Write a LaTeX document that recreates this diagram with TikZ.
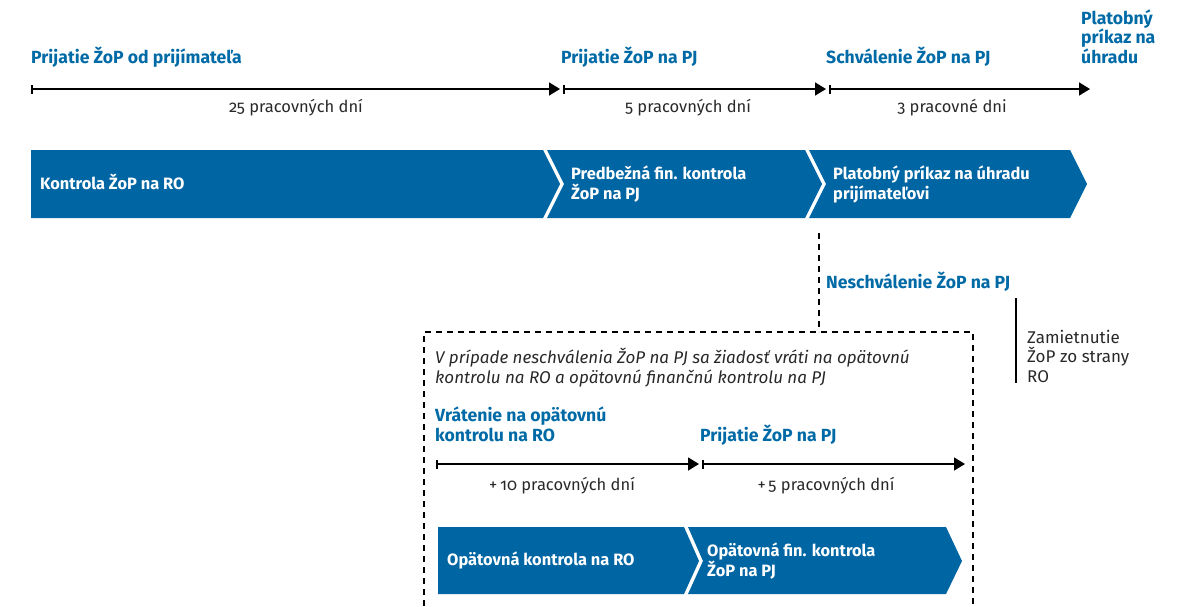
\documentclass[tikz,border=0pt]{standalone}
\usepackage{fontspec}
\setmainfont{Fira Sans}[Numbers=OldStyle]
\usetikzlibrary{arrows.meta}
\definecolor{ublue}{RGB}{0,106,166}
\definecolor{ufill}{RGB}{0,101,163}
\definecolor{utext}{RGB}{40,40,40}
\begin{document}
\begin{tikzpicture}[x=1pt,y=-1pt,
  lbl/.style={anchor=base west, inner sep=0pt, align=left,
    font=\fontsize{17.6}{19.5}\selectfont\bfseries, text=ublue},
  inlbl/.style={anchor=base west, inner sep=0pt, align=left,
    font=\fontsize{16.4}{19.5}\selectfont\bfseries, text=white},
  dur/.style={anchor=base, inner sep=0pt,
    font=\fontsize{16.5}{19.5}\selectfont, text=utext},
  note/.style={anchor=base west, inner sep=0pt, align=left,
    font=\fontsize{17}{19.5}\selectfont, text=utext},
  span/.style={line width=1.6pt,
    {Bar[width=9pt,line width=1.6pt]}-{Triangle[length=11pt,width=13pt]}},
  chev/.style={fill=ufill, draw=none},
  dashline/.style={line width=1.3pt, dash pattern=on 6pt off 5pt}
]
\useasboundingbox (0,0) rectangle (1180,606);

% ---- main time line ----
\coordinate (t0) at (31,89);
\coordinate (t1) at (560,89);
\coordinate (t1b) at (563,89);
\coordinate (t2) at (826,89);
\coordinate (t2b) at (829,89);
\coordinate (t3) at (1090,89);
\draw[span] (t0) -- (t1);
\draw[span] (t1b) -- (t2);
\draw[span] (t2b) -- (t3);

\node[lbl] (m0) at (31,63) {Prijatie ŽoP od prijímateľa};
\node[lbl] (m1) at (561,63) {Prijatie ŽoP na PJ};
\node[lbl] (m2) at (826,63) {Schválenie ŽoP na PJ};
\node[lbl] (m3) at (1081,63) {Platobný\\príkaz na\\úhradu};

\node[dur] (d1) at (296,112) {25 pracovných dní};
\node[dur] (d2) at (688,112) {5 pracovných dní};
\node[dur] (d3) at (952,112) {3 pracovné dni};

% ---- process chevrons ----
\fill[chev] (31,150) -- (543,150) -- (560,184) -- (543,218) -- (31,218) -- cycle;
\fill[chev] (547,150) -- (805,150) -- (822,184) -- (805,218) -- (547,218) -- (564,184) -- cycle;
\fill[chev] (809,150) -- (1070,150) -- (1087,184) -- (1070,218) -- (809,218) -- (826,184) -- cycle;
\node[inlbl] (c1) at (40,189) {Kontrola ŽoP na RO};
\node[inlbl] (c2) at (571,199) {Predbežná fin. kontrola\\ŽoP na PJ};
\node[inlbl] (c3) at (833,199) {Platobný príkaz na úhradu\\prijímateľovi};

% ---- rejection branch ----
\coordinate (b0) at (819,233);
\coordinate (b1) at (819,332);
\draw[dashline] (b0) -- (b1);
\node[lbl] (rej) at (826,288) {Neschválenie ŽoP na PJ};
\coordinate (z0) at (1016,298);
\coordinate (z1) at (1016,383);
\draw[line width=1.5pt] (z0) -- (z1);
\node[note] (zam) at (1027,382) {Zamietnutie\\ŽoP zo strany\\RO};

% dashed frame, open at the bottom
\coordinate (f0) at (424,606);
\coordinate (f1) at (424,332);
\coordinate (f2) at (973,332);
\coordinate (f3) at (973,606);
\draw[dashline] (f0) -- (f1) -- (f2) -- (f3);

\node[note, font=\fontsize{17}{20}\selectfont\itshape] (info) at (435,383)
  {V prípade neschválenia ŽoP na PJ sa žiadosť vráti na opätovnú\\kontrolu na RO a opätovnú finančnú kontrolu na PJ};

\node[lbl] (r0) at (435,441) {Vrátenie na opätovnú\\kontrolu na RO};
\node[lbl] (r1) at (700,441) {Prijatie ŽoP na PJ};

\coordinate (s0) at (436,464);
\coordinate (s1) at (699,464);
\coordinate (s1b) at (702,464);
\coordinate (s2) at (965,464);
\draw[span] (s0) -- (s1);
\draw[span] (s1b) -- (s2);
\node[dur] (e1) at (562,490) {+\,10 pracovných dní};
\node[dur] (e2) at (826,490) {+\,5 pracovných dní};

\fill[chev] (438,527) -- (684,527) -- (699,561) -- (684,594) -- (438,594) -- cycle;
\fill[chev] (688,527) -- (946,527) -- (962,561) -- (946,594) -- (688,594) -- (703,561) -- cycle;
\node[inlbl] (o1) at (447,565) {Opätovná kontrola na RO};
\node[inlbl] (o2) at (707,576) {Opätovná fin. kontrola\\ŽoP na PJ};
\end{tikzpicture}
\end{document}
